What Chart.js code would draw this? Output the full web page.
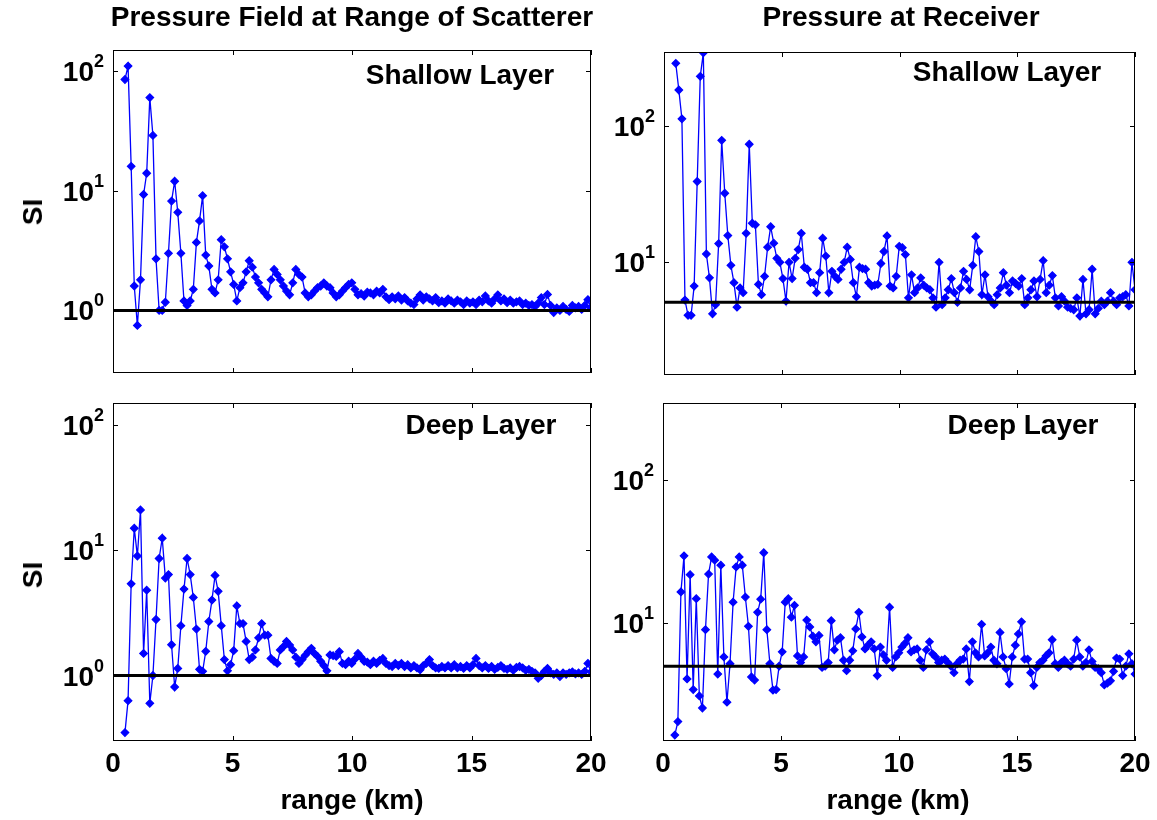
<!DOCTYPE html>
<html>
<head>
<meta charset="utf-8">
<title>SI vs range</title>
<script src="https://cdn.jsdelivr.net/npm/chart.js@4"></script>
<style>
  body { margin: 0; background: #fff; }
  #fig { position: relative; width: 1157px; height: 820px; overflow: hidden; background: #fff; }
  #fig canvas { position: absolute; left: 0; top: 0; }
  .t {
    position: absolute; white-space: nowrap; line-height: 1;
    font-family: "Liberation Sans", Arial, sans-serif; font-weight: bold; font-size: 28px;
    color: #000; transform: translate(-50%, -50%);
  }
  .rot { transform: translate(-50%, -50%) rotate(-90deg); }
</style>
</head>
<body>
<div id="fig">
  <canvas id="tl" width="1157" height="820"></canvas>
  <canvas id="tr" width="1157" height="820"></canvas>
  <canvas id="bl" width="1157" height="820"></canvas>
  <canvas id="br" width="1157" height="820"></canvas>

  <div class="t" style="left:352px; top:17px">Pressure Field at Range of Scatterer</div>
  <div class="t" style="left:901px; top:17px">Pressure at Receiver</div>
  <div class="t" style="left:460px; top:75px">Shallow Layer</div>
  <div class="t" style="left:1007px; top:72px">Shallow Layer</div>
  <div class="t" style="left:481px; top:425px">Deep Layer</div>
  <div class="t" style="left:1023px; top:425px">Deep Layer</div>
  <div class="t rot" style="left:33px; top:212px">SI</div>
  <div class="t rot" style="left:33px; top:575px">SI</div>
  <div class="t" style="left:352px; top:800px">range (km)</div>
  <div class="t" style="left:898px; top:800px">range (km)</div>
</div>

<script>
// range grid (km)
const rangeKm = [
  0.5, 0.63, 0.76, 0.89, 1.02, 1.15, 1.28, 1.41, 1.54, 1.67,
  1.8, 1.93, 2.06, 2.19, 2.32, 2.45, 2.58, 2.71, 2.84, 2.97,
  3.1, 3.23, 3.36, 3.49, 3.62, 3.75, 3.88, 4.01, 4.14, 4.27,
  4.4, 4.53, 4.66, 4.79, 4.92, 5.05, 5.18, 5.31, 5.44, 5.57,
  5.7, 5.83, 5.96, 6.09, 6.22, 6.35, 6.48, 6.61, 6.74, 6.87,
  7.0, 7.13, 7.26, 7.39, 7.52, 7.65, 7.78, 7.91, 8.04, 8.17,
  8.3, 8.43, 8.56, 8.69, 8.82, 8.95, 9.08, 9.21, 9.34, 9.47,
  9.6, 9.73, 9.86, 9.99, 10.12, 10.25, 10.38, 10.51, 10.64, 10.77,
  10.9, 11.03, 11.16, 11.29, 11.42, 11.55, 11.68, 11.81, 11.94, 12.07,
  12.2, 12.33, 12.46, 12.59, 12.72, 12.85, 12.98, 13.11, 13.24, 13.37,
  13.5, 13.63, 13.76, 13.89, 14.02, 14.15, 14.28, 14.41, 14.54, 14.67,
  14.8, 14.93, 15.06, 15.19, 15.32, 15.45, 15.58, 15.71, 15.84, 15.97,
  16.1, 16.23, 16.36, 16.49, 16.62, 16.75, 16.88, 17.01, 17.14, 17.27,
  17.4, 17.53, 17.66, 17.79, 17.92, 18.05, 18.18, 18.31, 18.44, 18.57,
  18.7, 18.83, 18.96, 19.09, 19.22, 19.35, 19.48, 19.61, 19.74, 19.87,
  20.0
];

// SI at range of scatterer, shallow layer
const siScattShallow = [
  85, 110, 16, 1.6, 0.75, 1.8, 9.3, 14, 60, 29,
  2.7, 1.0, 1.0, 1.17, 3.0, 8.2, 12, 6.6, 3.0, 1.2,
  1.1, 1.2, 1.5, 3.7, 5.6, 9.1, 2.9, 2.35, 1.5, 1.4,
  1.8, 3.9, 3.4, 2.7, 2.1, 1.65, 1.2, 1.55, 1.7, 2.1,
  2.6, 2.3, 1.9, 1.7, 1.5, 1.4, 1.3, 1.8, 2.2, 2.0,
  1.8, 1.6, 1.45, 1.35, 1.7, 2.2, 2.0, 1.9, 1.4, 1.3,
  1.35, 1.45, 1.55, 1.6, 1.7, 1.6, 1.55, 1.4, 1.3, 1.35,
  1.45, 1.55, 1.65, 1.7, 1.5, 1.35, 1.38, 1.32, 1.42, 1.4,
  1.35, 1.45, 1.4, 1.5, 1.3, 1.23, 1.3, 1.25, 1.32, 1.22,
  1.28, 1.2, 1.15, 1.12, 1.25, 1.35, 1.22, 1.3, 1.25, 1.2,
  1.28, 1.16, 1.2, 1.15, 1.25, 1.2, 1.15, 1.22, 1.18, 1.12,
  1.2, 1.15, 1.18, 1.12, 1.22, 1.18, 1.32, 1.2, 1.15, 1.25,
  1.35, 1.2, 1.25, 1.16, 1.22, 1.15, 1.18, 1.2, 1.12, 1.15,
  1.1, 1.12, 1.08, 1.15, 1.28, 1.12, 1.36, 1.1, 0.96, 1.05,
  1.0, 1.08, 1.02, 0.98, 1.1, 1.05, 1.08, 1.02, 1.1, 1.23,
  1.05
];

// SI at range of scatterer, deep layer
const siScattDeep = [
  0.35, 0.63, 5.4, 15, 9, 21, 1.5, 4.8, 0.6, 1.0,
  2.8, 8.6, 12.5, 6.0, 6.4, 1.76, 0.81, 1.14, 2.5, 4.9,
  8.6, 6.4, 4.2, 2.35, 1.12, 1.08, 1.56, 2.7, 4.0, 6.3,
  4.7, 2.5, 1.34, 1.09, 1.22, 1.58, 3.6, 2.6, 2.6, 1.87,
  1.34, 1.4, 1.6, 2.0, 2.6, 2.1, 2.1, 1.37, 1.3, 1.25,
  1.6, 1.7, 1.87, 1.75, 1.6, 1.4, 1.25, 1.34, 1.45, 1.55,
  1.65, 1.5, 1.42, 1.3, 1.2, 1.09, 1.46, 1.44, 1.42, 1.55,
  1.25, 1.22, 1.3, 1.25, 1.35, 1.5, 1.4, 1.3, 1.28, 1.22,
  1.3, 1.25, 1.32, 1.37, 1.25, 1.2, 1.18, 1.25, 1.2, 1.25,
  1.18, 1.22, 1.15, 1.2, 1.15, 1.11, 1.2, 1.25, 1.34, 1.2,
  1.15, 1.14, 1.18, 1.15, 1.2, 1.15, 1.22, 1.15, 1.18, 1.14,
  1.2, 1.15, 1.22, 1.37, 1.2, 1.15, 1.2, 1.14, 1.18, 1.12,
  1.16, 1.2, 1.14, 1.12, 1.15, 1.1, 1.16, 1.18, 1.15, 1.1,
  1.12, 1.08, 1.05, 0.95, 1.0, 1.08, 1.14, 1.05, 1.02, 1.05,
  0.98, 1.05, 1.02, 1.05, 1.07, 1.03, 1.05, 1.02, 1.08, 1.25,
  1.07
];

// SI at receiver, shallow layer
const siRecvShallow = [
  285, 182, 112, 5.3, 4.1, 4.1, 6.7, 39, 229, 340,
  11.5, 7.7, 4.2, 4.9, 13.7, 78, 32, 15.7, 9.5, 7.1,
  4.7, 6.5, 6.0, 16.3, 73, 19.3, 18.8, 6.9, 5.8, 7.9,
  12.9, 18.2, 13.8, 10.7, 10, 7.6, 5.2, 10, 7.6, 10.7,
  12.4, 16.3, 9.2, 8.9, 7.1, 7.1, 6.0, 8.4, 15, 11.1,
  6.0, 8.6, 7.9, 7.5, 8.9, 10, 12.9, 10.5, 7.1, 5.6,
  9.2, 9, 8.9, 7.1, 6.7, 6.8, 6.9, 9.8, 12, 15.6,
  6.7, 6.5, 7.9, 13.1, 12.8, 11.4, 5.5, 8.1, 6.0, 6.5,
  7.7, 6.8, 6.5, 6.3, 5.5, 4.7, 10, 4.9, 5.5, 6.3,
  7.6, 6.0, 5.1, 6.5, 8.6, 7.5, 6.3, 9.5, 15.4, 12.0,
  5.8, 8.1, 5.6, 5.2, 4.9, 5.8, 6.5, 8.4, 6.8, 6.0,
  7.3, 7.0, 6.7, 7.6, 4.9, 5.5, 6.3, 7.3, 5.6, 7.5,
  10.3, 6.0, 6.8, 8.0, 5.5, 4.8, 5.6, 5.2, 4.7, 4.6,
  4.5, 5.5, 4.05, 7.5, 4.2, 4.5, 8.9, 4.2, 4.6, 5.2,
  4.9, 5.2, 6.0, 5.2, 4.9, 5.5, 5.6, 5.8, 4.8, 10,
  6.3
];

// SI at receiver, deep layer
const siRecvDeep = [
  1.65, 2.05, 16.5, 29.5, 4.07, 21.8, 3.43, 14.8, 3.1, 2.55,
  9.0, 22, 29, 27.5, 4.4, 25.4, 5.8, 2.8, 5.2, 14,
  24.7, 29, 25.4, 15.2, 9.5, 4.2, 4.0, 11.9, 14.7, 31,
  9.0, 5.2, 3.4, 3.43, 5.0, 6.3, 14, 14.8, 11.0, 13.3,
  5.9, 5.3, 5.8, 10.5, 9.4, 8.1, 7.4, 8.2, 4.9, 5.0,
  5.3, 10.4, 6.5, 7.6, 7.9, 5.5, 4.65, 5.5, 6.4, 9.1,
  11.9, 8.0, 6.6, 7.0, 7.4, 6.6, 4.3, 6.8, 6.0, 5.5,
  12.9, 4.9, 5.8, 6.2, 6.8, 7.2, 7.9, 6.3, 6.5, 6.6,
  5.5, 4.9, 6.5, 7.4, 6.1, 5.8, 5.3, 5.5, 5.6, 5.3,
  5.0, 4.5, 5.2, 5.5, 5.6, 6.6, 3.9, 7.4, 6.2, 5.8,
  9.8, 5.9, 6.2, 6.8, 5.5, 5.2, 8.6, 5.8, 4.8, 3.76,
  5.8, 7.0, 8.4, 10.2, 5.6, 5.6, 4.5, 3.66, 4.9, 5.3,
  5.5, 5.9, 6.2, 7.65, 5.2, 4.9, 5.3, 5.5, 5.2, 5.0,
  5.6, 7.6, 5.8, 5.0, 5.3, 6.5, 5.4, 4.9, 4.8, 4.5,
  3.7, 3.8, 3.95, 4.6, 5.7, 5.6, 4.3, 5.0, 6.1, 5.2,
  4.4
];

// reference levels (black lines)
const refScatt = 1.0;
const refRecvShallow = 5.1;
const refRecvDeep = 5.0;

// axes
const rangeTicks = [0, 5, 10, 15, 20];
const scattExps = [0, 1, 2];
const recvExps = [1, 2];
const scattLimits = [0.3, 150];
const recvLimits = [1.5, 345];

const FONT = '"Liberation Sans", Arial, sans-serif';

// draws the Matlab-style box, inward ticks and tick labels
const axesBox = {
  id: 'axesBox',
  afterDraw(chart, args, opts) {
    const { ctx, chartArea: a, scales: { x, y } } = chart;
    ctx.save();
    ctx.strokeStyle = '#000';
    ctx.lineWidth = 1;
    ctx.strokeRect(a.left + 0.5, a.top + 0.5, a.right - a.left - 1, a.bottom - a.top - 1);

    ctx.beginPath();
    rangeTicks.forEach(v => {
      const px = Math.round(x.getPixelForValue(v)) + 0.5;
      ctx.moveTo(px, a.bottom); ctx.lineTo(px, a.bottom - 5);
      ctx.moveTo(px, a.top); ctx.lineTo(px, a.top + 5);
    });
    opts.exps.forEach(e => {
      const py = Math.round(y.getPixelForValue(Math.pow(10, e))) + 0.5;
      ctx.moveTo(a.left, py); ctx.lineTo(a.left + 5, py);
      ctx.moveTo(a.right, py); ctx.lineTo(a.right - 5, py);
    });
    ctx.stroke();

    ctx.fillStyle = '#000';
    ctx.textBaseline = 'alphabetic';
    // y tick labels as 10^n
    opts.exps.forEach(e => {
      const py = y.getPixelForValue(Math.pow(10, e));
      ctx.font = 'bold 28px ' + FONT;
      const wBase = ctx.measureText('10').width;
      ctx.font = 'bold 18px ' + FONT;
      const wExp = ctx.measureText(String(e)).width;
      const x0 = a.left - 9 - wBase - wExp;
      ctx.textAlign = 'left';
      ctx.font = 'bold 28px ' + FONT;
      ctx.fillText('10', x0, py + 10);
      ctx.font = 'bold 18px ' + FONT;
      ctx.fillText(String(e), x0 + wBase, py - 4);
    });
    // x tick labels on the bottom row only
    if (opts.xLabels) {
      ctx.font = 'bold 28px ' + FONT;
      ctx.textAlign = 'center';
      rangeTicks.forEach(v => {
        ctx.fillText(String(v), x.getPixelForValue(v), a.bottom + 31);
      });
    }
    ctx.restore();
  }
};

function makePanel(id, values, ref, limits, exps, pad, xLabels) {
  const pts = rangeKm.map((r, i) => ({ x: r, y: values[i] }));
  return new Chart(document.getElementById(id), {
    type: 'line',
    data: {
      datasets: [
        {
          data: [{ x: 0, y: ref }, { x: 20, y: ref }],
          borderColor: '#000',
          borderWidth: 3,
          pointRadius: 0
        },
        {
          data: pts,
          borderColor: '#0000ff',
          borderWidth: 1.3,
          pointStyle: 'rectRot',
          pointRadius: 3.8,
          pointBackgroundColor: '#0000ff',
          pointBorderColor: '#0000ff',
          pointBorderWidth: 1.2
        }
      ]
    },
    options: {
      responsive: false,
      animation: false,
      events: [],
      layout: { padding: pad },
      scales: {
        x: { type: 'linear', min: 0, max: 20, display: false },
        y: { type: 'logarithmic', min: limits[0], max: limits[1], display: false }
      },
      plugins: {
        legend: { display: false },
        tooltip: { enabled: false },
        axesBox: { exps: exps, xLabels: xLabels }
      }
    },
    plugins: [axesBox]
  });
}

// padding = distance of each plot box from the canvas edges
makePanel('tl', siScattShallow, refScatt, scattLimits, scattExps,
  { left: 113, top: 50, right: 1157 - 591, bottom: 820 - 373 }, false);
makePanel('tr', siRecvShallow, refRecvShallow, recvLimits, recvExps,
  { left: 664, top: 52, right: 1157 - 1135, bottom: 820 - 375 }, false);
makePanel('bl', siScattDeep, refScatt, scattLimits, scattExps,
  { left: 113, top: 403, right: 1157 - 591, bottom: 820 - 741 }, true);
makePanel('br', siRecvDeep, refRecvDeep, recvLimits, recvExps,
  { left: 663, top: 403, right: 1157 - 1135, bottom: 820 - 741 }, true);
</script>
</body>
</html>
